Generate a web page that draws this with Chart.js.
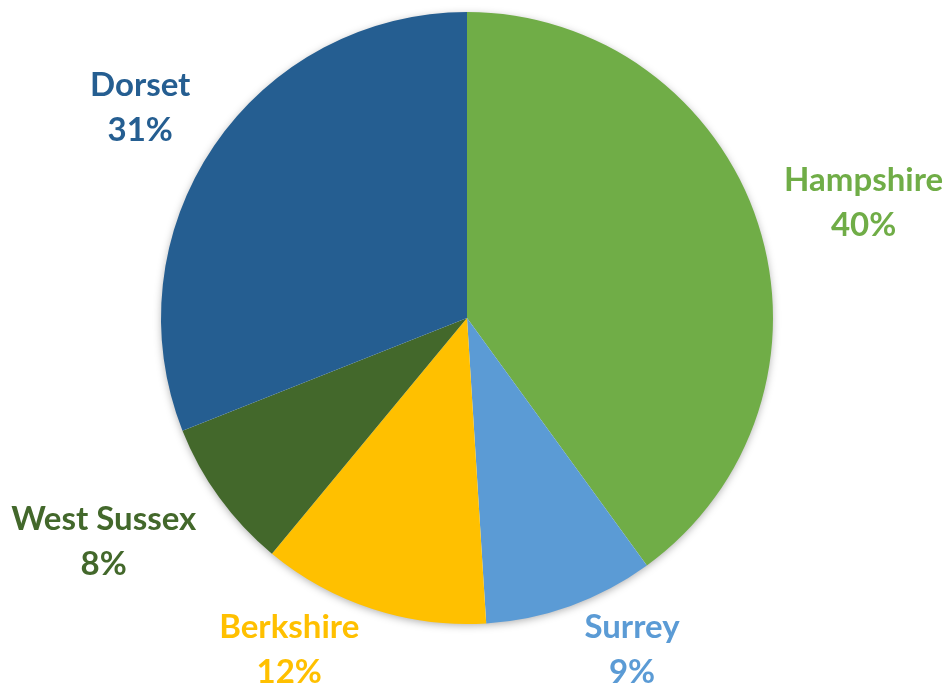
<!DOCTYPE html>
<html>
<head>
<meta charset="utf-8">
<script src="https://cdn.jsdelivr.net/npm/chart.js@4.4.1/dist/chart.umd.min.js"></script>
<style>
    html, body { margin: 0; padding: 0; background: #ffffff; }
    #wrap { width: 952px; height: 691px; }
</style>
</head>
<body>
<div id="wrap"><canvas id="pie-chart" width="952" height="691"></canvas></div>
<script>
// slices, clockwise from 12 o'clock
const regions = ['Hampshire', 'Surrey', 'Berkshire', 'West Sussex', 'Dorset'];
const shares = [40, 9, 12, 8, 31];
const colors = ['#70AD47', '#5B9BD5', '#FFC000', '#43682B', '#255E91'];

const FONT = 'bold 33px Lato, "Open Sans", sans-serif';
const LINE = 45;
const GAP = 20;
const PAD_X = 7;
const HALF_H = 52;

// soft shadow behind the whole pie, like the office chart
const pieShadow = {
    id: 'pieShadow',
    beforeDatasetsDraw(chart) {
        const arc = chart.getDatasetMeta(0).data[0];
        if (!arc) return;
        const { x, y, outerRadius } = arc.getProps(['x', 'y', 'outerRadius'], true);
        const ctx = chart.ctx;
        ctx.save();
        ctx.shadowColor = 'rgba(0,0,0,0.35)';
        ctx.shadowBlur = 9;
        ctx.shadowOffsetY = 2;
        ctx.fillStyle = '#ffffff';
        ctx.beginPath();
        ctx.arc(x, y, outerRadius - 1, 0, Math.PI * 2);
        ctx.fill();
        ctx.restore();
    },
};

// "outside end" labels: name + percent, in the slice colour
const outLabels = {
    id: 'outLabels',
    afterDatasetsDraw(chart) {
        const ctx = chart.ctx;
        const meta = chart.getDatasetMeta(0);
        const H = chart.height;
        ctx.save();
        ctx.font = FONT;
        ctx.textAlign = 'center';
        ctx.textBaseline = 'middle';
        meta.data.forEach((arc, i) => {
            const p = arc.getProps(['x', 'y', 'startAngle', 'endAngle', 'outerRadius'], true);
            const mid = (p.startAngle + p.endAngle) / 2;
            const lines = [regions[i], shares[i] + '%'];
            const w = Math.max(...lines.map((l) => ctx.measureText(l).width));
            const ux = Math.cos(mid);
            const uy = Math.sin(mid);
            // anchor just outside the rim, box sits beside it
            const ax = p.x + ux * (p.outerRadius + GAP);
            const ay = p.y + uy * (p.outerRadius + GAP);
            const bx = ax + Math.sign(ux) * (w / 2 + PAD_X);
            let by = ay + uy * HALF_H + 2;
            by = Math.min(Math.max(by, LINE), H - LINE + 4);
            ctx.fillStyle = colors[i];
            ctx.fillText(lines[0], bx, by - LINE / 2);
            ctx.fillText(lines[1], bx, by + LINE / 2);
        });
        ctx.restore();
    },
};

const config = {
    type: 'pie',
    data: {
        labels: regions,
        datasets: [
            {
                data: shares,
                backgroundColor: colors,
                borderWidth: 0,
            },
        ],
    },
    options: {
        responsive: false,
        animation: false,
        layout: {
            padding: { top: 12, bottom: 67, left: 100, right: 118 },
        },
        plugins: {
            legend: { display: false },
            tooltip: { enabled: false },
            title: { display: false },
        },
    },
    plugins: [pieShadow, outLabels],
};

new Chart(document.getElementById('pie-chart'), config);
</script>
</body>
</html>
